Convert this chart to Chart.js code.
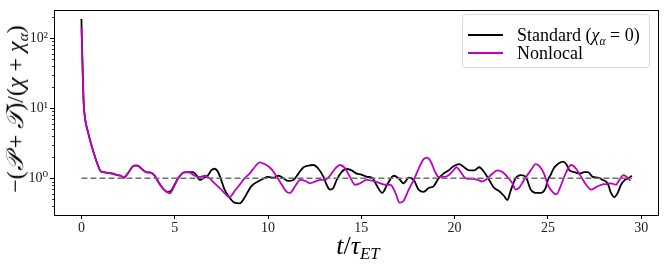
<!DOCTYPE html>
<html><head><meta charset="utf-8">
<script src="https://cdn.jsdelivr.net/npm/chart.js@4"></script>
<style>
html,body{margin:0;padding:0;background:#fff;}
#wrap{position:relative;width:664px;height:265px;overflow:hidden;background:#fff;}
canvas{position:absolute;left:0;top:0;}
.math{font-family:"Liberation Serif","DejaVu Serif",serif;color:#000;position:absolute;white-space:nowrap;line-height:1;}
#ytitle{left:15px;top:109px;transform:translate(-50%,-50%) rotate(-90deg);font-size:24px;}
#xtitle{left:358px;top:246px;transform:translate(-50%,-50%);font-size:26px;}
#legend{position:absolute;left:462px;top:14px;width:188px;height:54px;border:1px solid #d6d6d6;border-radius:4px;background:rgba(255,255,255,0.85);box-sizing:border-box;}
.lrow{position:absolute;left:0;height:20px;width:186px;}
.lline{position:absolute;left:5px;width:35px;height:2px;top:9px;}
.ltext{position:absolute;left:54px;top:0;font-family:"Liberation Serif","DejaVu Serif",serif;font-size:18px;line-height:20px;white-space:nowrap;color:#000;}
i{font-style:italic;}
sub{font-size:65%;vertical-align:baseline;position:relative;top:0.3em;}
</style></head>
<body>
<div id="wrap">
<canvas id="c" width="664" height="265"></canvas>
<div id="ytitle" class="math">−(<i>𝒫</i> + <i>𝒯</i>)/(<i>χ</i> + <i>χ</i><sub><i>α</i></sub>)</div>
<div id="xtitle" class="math"><i>t</i>/<i>τ</i><sub><i>ET</i></sub></div>
<div id="legend">
  <div class="lrow" style="top:10px"><div class="lline" style="background:#000"></div><div class="ltext">Standard (<i>χ</i><sub><i>α</i></sub> = 0)</div></div>
  <div class="lrow" style="top:28px"><div class="lline" style="background:#bf00bf"></div><div class="ltext">Nonlocal</div></div>
</div>
</div>
<script>
// ---- data ----
const stdT = [0, 0.05, 0.12, 0.2, 0.33, 0.6, 0.9, 1.05, 1.32, 1.67, 1.94, 2.12, 2.26, 2.48, 2.83, 3.01, 3.19, 3.45, 3.72, 3.9, 4.17, 4.43,
  4.61, 4.8, 4.97, 5.18, 5.45, 5.72, 5.98, 6.16, 6.34, 6.52, 6.79, 6.96, 7.14, 7.32, 7.49, 7.67, 7.94, 8.21, 8.48, 8.74, 9.1, 9.46, 9.72, 9.99,
  10.29, 10.56, 10.83, 11.09, 11.36, 11.63, 11.9, 12.16, 12.43, 12.7, 12.97, 13.14, 13.32, 13.5, 13.68, 13.94, 14.21, 14.48, 14.75, 14.98,
  15.31, 15.58, 15.85, 16.12, 16.38, 16.74, 17.0, 17.27, 17.54, 17.81, 18.07, 18.34, 18.61, 18.87, 19.14, 19.41, 19.68, 19.96, 20.25, 20.51,
  20.78, 21.05, 21.31, 21.58, 21.85, 22.12, 22.38, 22.65, 22.83, 23.0, 23.27, 23.54, 23.81, 24.08, 24.34, 24.61, 24.88, 25.0, 25.14, 25.3,
  25.53, 25.8, 25.98, 26.16, 26.42, 26.69, 26.96, 27.14, 27.4, 27.67, 27.94, 28.2, 28.38, 28.56, 28.74, 28.92, 29.13, 29.36, 29.5];
const stdV = [188, 50, 12, 7, 4.8, 2.6, 1.5, 1.25, 1.21, 1.17, 1.11, 1.09, 1.02, 1.17, 1.52, 1.52, 1.40, 1.23, 1.21, 1.11, 0.85, 0.69,
  0.64, 0.66, 0.79, 1.0, 1.2, 1.23, 1.23, 1.11, 0.95, 1.0, 1.11, 1.30, 1.37, 1.23, 0.95, 0.69, 0.53, 0.45, 0.44, 0.53, 0.77, 0.90, 0.98, 1.05,
  1.02, 1.09, 1.0, 0.92, 0.95, 1.17, 1.44, 1.52, 1.55, 1.37, 1.05, 0.81, 0.69, 0.73, 0.95, 1.23, 1.37, 1.30, 1.17, 1.14,
  1.05, 1.02, 0.77, 0.62, 0.81, 1.09, 1.0, 0.85, 1.02, 0.95, 0.69, 0.64, 0.73, 0.77, 1.0, 1.17, 1.30, 1.50, 1.60, 1.44,
  1.30, 1.30, 1.44, 1.23, 0.95, 0.73, 0.66, 0.56, 0.49, 0.66, 1.0, 1.11, 1.05, 0.69, 0.62, 0.62, 0.73, 0.95, 1.11, 1.37,
  1.60, 1.73, 1.60, 1.30, 1.23, 1.17, 1.23, 1.23, 1.05, 1.02, 0.95, 0.85, 0.62, 0.54, 0.62, 0.81, 0.95, 1.02, 1.09];
const nlT = [0, 0.05, 0.12, 0.2, 0.33, 0.6, 0.9, 1.05, 1.32, 1.67, 1.94, 2.12, 2.26, 2.48, 2.83, 3.01, 3.19, 3.45, 3.72, 3.9, 4.17, 4.43,
  4.74, 4.97, 5.18, 5.54, 5.81, 6.07, 6.34, 6.61, 6.87, 7.14, 7.49, 7.76, 7.94, 8.21, 8.48, 8.74, 9.01, 9.28, 9.55, 9.81, 10.08, 10.24,
  10.47, 10.74, 11.0, 11.18, 11.45, 11.72, 11.99, 12.25, 12.52, 12.79, 13.05, 13.32, 13.59, 13.86, 14.12, 14.39, 14.66, 14.93, 15.28,
  15.76, 16.03, 16.29, 16.56, 16.83, 17.05, 17.27, 17.54, 17.81, 18.07, 18.34, 18.52, 18.7, 18.96, 19.14, 19.41, 19.68, 19.94, 20.1, 20.3,
  20.6, 20.96, 21.23, 21.49, 21.76, 22.03, 22.3, 22.56, 22.83, 23.1, 23.27, 23.45, 23.72, 24.08, 24.34, 24.52, 24.79, 25.0, 25.27, 25.45,
  25.71, 25.98, 26.25, 26.51, 26.78, 27.05, 27.32, 27.58, 27.85, 28.12, 28.38, 28.65, 28.83, 29.06, 29.27, 29.42];
const nlV = [142, 50, 12, 7, 4.8, 2.6, 1.5, 1.25, 1.21, 1.17, 1.11, 1.09, 1.02, 1.17, 1.52, 1.52, 1.40, 1.23, 1.21, 1.11, 0.85, 0.69,
  0.61, 0.77, 1.0, 1.23, 1.21, 1.09, 1.05, 1.09, 1.0, 0.85, 0.69, 0.58, 0.54, 0.66, 0.81, 1.0, 1.17, 1.44, 1.69, 1.60, 1.44, 1.30,
  1.05, 0.81, 0.64, 0.62, 0.77, 0.95, 0.92, 0.85, 0.90, 0.95, 0.95, 1.09, 1.37, 1.55, 1.40, 1.05, 0.81, 0.85, 0.95,
  0.90, 0.85, 0.81, 0.81, 0.62, 0.45, 0.48, 0.69, 0.95, 1.37, 1.88, 1.98, 1.78, 1.23, 1.05, 1.05, 1.11, 1.30, 1.44, 1.26,
  1.0, 0.98, 0.95, 0.90, 1.0, 1.17, 1.30, 1.23, 1.05, 0.85, 0.69, 0.73, 0.95, 1.30, 1.60, 1.52, 1.17, 0.80, 0.63, 0.59,
  0.81, 1.23, 1.55, 1.37, 1.05, 0.81, 0.69, 0.75, 0.81, 0.83, 0.85, 0.81, 0.95, 1.11, 1.02, 0.92];
const refT = [0, 29.5];
const refV = [1, 1];
const xTicks = [0, 5, 10, 15, 20, 25, 30];
const yTicks = [1, 10, 100];
const yTickLabels = ['10⁰', '10¹', '10²'];
const yMinor = [0.4,0.5,0.6,0.7,0.8,0.9,2,3,4,5,6,7,8,9,20,30,40,50,60,70,80,90,200];

const pts = (t, v) => t.map((x, i) => ({x: x, y: v[i]}));

const framePlugin = {
  id: 'frame',
  afterDatasetsDraw(chart) {
    const a = chart.chartArea, ctx = chart.ctx;
    ctx.save();
    const ys = chart.scales.y;
    ctx.strokeStyle = '#000'; ctx.lineWidth = 0.8;
    ctx.beginPath();
    yMinor.forEach(v => {
      const p = Math.round(ys.getPixelForValue(v)) + 0.5;
      ctx.moveTo(a.left, p); ctx.lineTo(a.left - 2, p);
    });
    ctx.stroke();
    ctx.lineWidth = 1;
    ctx.strokeRect(Math.round(a.left) + 0.5, Math.round(a.top) + 0.5, Math.round(a.right - a.left), Math.round(a.bottom - a.top));
    ctx.restore();
  }
};

const tickFont = {family: '"Liberation Serif", "DejaVu Serif", serif', size: 14};

new Chart(document.getElementById('c'), {
  type: 'line',
  data: {
    datasets: [
      {label: 'Standard', data: pts(stdT, stdV), borderColor: '#000', borderWidth: 1.8, pointRadius: 0, cubicInterpolationMode: 'monotone', order: 2},
      {label: 'Nonlocal', data: pts(nlT, nlV), borderColor: '#bf00bf', borderWidth: 1.8, pointRadius: 0, cubicInterpolationMode: 'monotone', order: 1},
      {label: 'ref', data: pts(refT, refV), borderColor: '#6f6f6f', borderWidth: 1.5, borderDash: [6, 3], pointRadius: 0, order: 0}
    ]
  },
  options: {
    responsive: false,
    animation: false,
    devicePixelRatio: 1,
    layout: {padding: {left: 0, right: 6, top: 5, bottom: 0}},
    plugins: {legend: {display: false}, tooltip: {enabled: false}},
    scales: {
      x: {
        type: 'linear', min: -1.47, max: 30.9,
        afterBuildTicks: s => { s.ticks = xTicks.map(v => ({value: v})); },
        afterFit: s => { s.height = 50; },
        ticks: {font: tickFont, color: '#222', padding: 1, maxRotation: 0, autoSkip: false},
        grid: {drawOnChartArea: false, tickLength: 4, tickColor: '#000', tickWidth: 1},
        border: {display: true, color: '#000', width: 1}
      },
      y: {
        type: 'logarithmic', min: 0.332, max: 249,
        afterBuildTicks: s => { s.ticks = yTicks.map(v => ({value: v, major: true})); },
        afterFit: s => { s.width = 54; },
        ticks: {font: tickFont, color: '#222', padding: 2, autoSkip: false,
          callback: (v) => { const i = yTicks.indexOf(v); return i >= 0 ? yTickLabels[i] : ''; }},
        grid: {drawOnChartArea: false, tickLength: 4, tickColor: '#000', tickWidth: 1},
        border: {display: true, color: '#000', width: 1}
      }
    }
  },
  plugins: [framePlugin]
});
</script>
</body></html>
